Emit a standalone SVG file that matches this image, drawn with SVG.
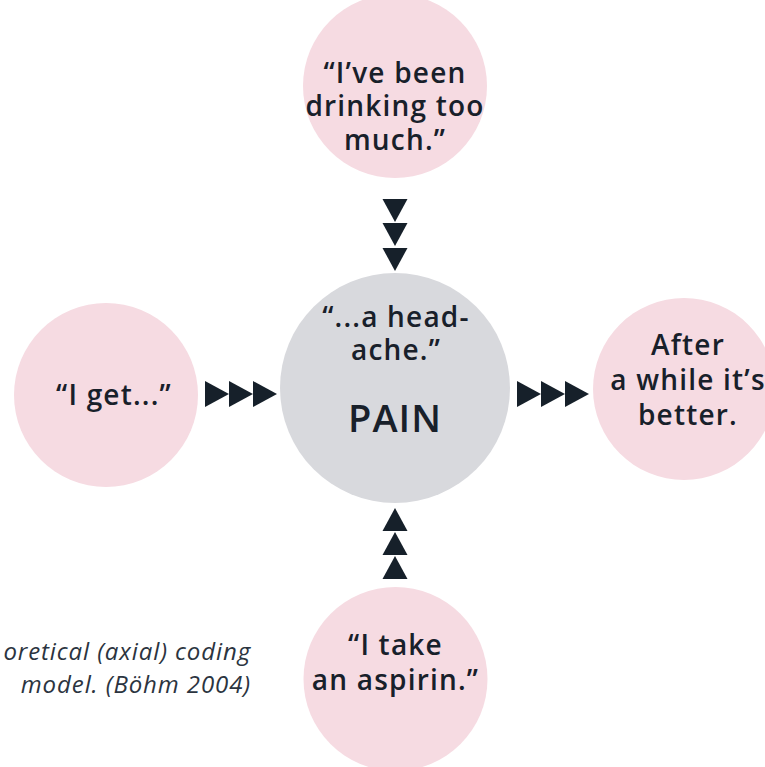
<svg xmlns="http://www.w3.org/2000/svg" width="765" height="767" viewBox="0 0 765 767">
  <style>
    .bg { fill: #ffffff; }
    .pink { fill: #f6dbe2; }
    .grey { fill: #d8d9dd; }
    .lbl { font-family: "Open Sans", "Noto Sans", "Liberation Sans", sans-serif; font-weight: 600; font-size: 28px; letter-spacing: 1.2px; fill: #18202a; text-anchor: middle; }
    .big { font-size: 38px; font-weight: 600; letter-spacing: 1px; }
    .cap { font-family: "Open Sans", "Noto Sans", "Liberation Sans", sans-serif; font-style: italic; font-weight: 400; font-size: 24px; letter-spacing: 0.9px; fill: #2b3440; text-anchor: end; }
    .tri { fill: #16202a; }
  </style>
  <defs>
    <polygon id="tri-right" class="tri" points="0,-13 24,0 0,13"/>
    <polygon id="tri-down" class="tri" points="-12.5,0 12.5,0 0,23"/>
    <polygon id="tri-up" class="tri" points="-12.5,0 12.5,0 0,-23"/>
  </defs>
  <rect class="bg" x="0" y="0" width="765" height="767"/>

  <!-- caption, right-aligned at the left margin -->
  <g id="caption">
    <text class="cap"><tspan x="251" y="660">oretical (axial) coding</tspan><tspan x="251" y="693">model. (Böhm 2004)</tspan></text>
  </g>

  <!-- central phenomenon -->
  <g id="node-pain">
    <circle class="grey" cx="395" cy="388" r="115"/>
    <text class="lbl"><tspan x="396" y="327">“...a head-</tspan><tspan x="396" y="360">ache.”</tspan></text>
    <text class="lbl big" x="395" y="432">PAIN</text>
  </g>

  <!-- causal condition -->
  <g id="node-cause">
    <circle class="pink" cx="395" cy="86" r="92"/>
    <text class="lbl"><tspan x="395" y="83">“I’ve been</tspan><tspan x="395" y="116">drinking too</tspan><tspan x="395" y="150">much.”</tspan></text>
  </g>

  <!-- context -->
  <g id="node-context">
    <circle class="pink" cx="106" cy="395" r="92"/>
    <text class="lbl" x="114" y="405">“I get...”</text>
  </g>

  <!-- consequence -->
  <g id="node-consequence">
    <circle class="pink" cx="684" cy="389" r="91"/>
    <text class="lbl"><tspan x="688" y="355">After</tspan><tspan x="688" y="390">a while it’s</tspan><tspan x="688" y="425">better.</tspan></text>
  </g>

  <!-- action strategy -->
  <g id="node-action">
    <circle class="pink" cx="395.5" cy="679" r="92"/>
    <text class="lbl"><tspan x="395.5" y="655">“I take</tspan><tspan x="395.5" y="690">an aspirin.”</tspan></text>
  </g>

  <!-- connectors: triple arrowheads -->
  <g id="connectors">
    <use href="#tri-down" x="395" y="199"/>
    <use href="#tri-down" x="395" y="223"/>
    <use href="#tri-down" x="395" y="248"/>

    <use href="#tri-right" x="205" y="394"/>
    <use href="#tri-right" x="229" y="394"/>
    <use href="#tri-right" x="253" y="394"/>

    <use href="#tri-right" x="517" y="394"/>
    <use href="#tri-right" x="541" y="394"/>
    <use href="#tri-right" x="565" y="394"/>

    <use href="#tri-up" x="395" y="531"/>
    <use href="#tri-up" x="395" y="555"/>
    <use href="#tri-up" x="395" y="579"/>
  </g>
</svg>
